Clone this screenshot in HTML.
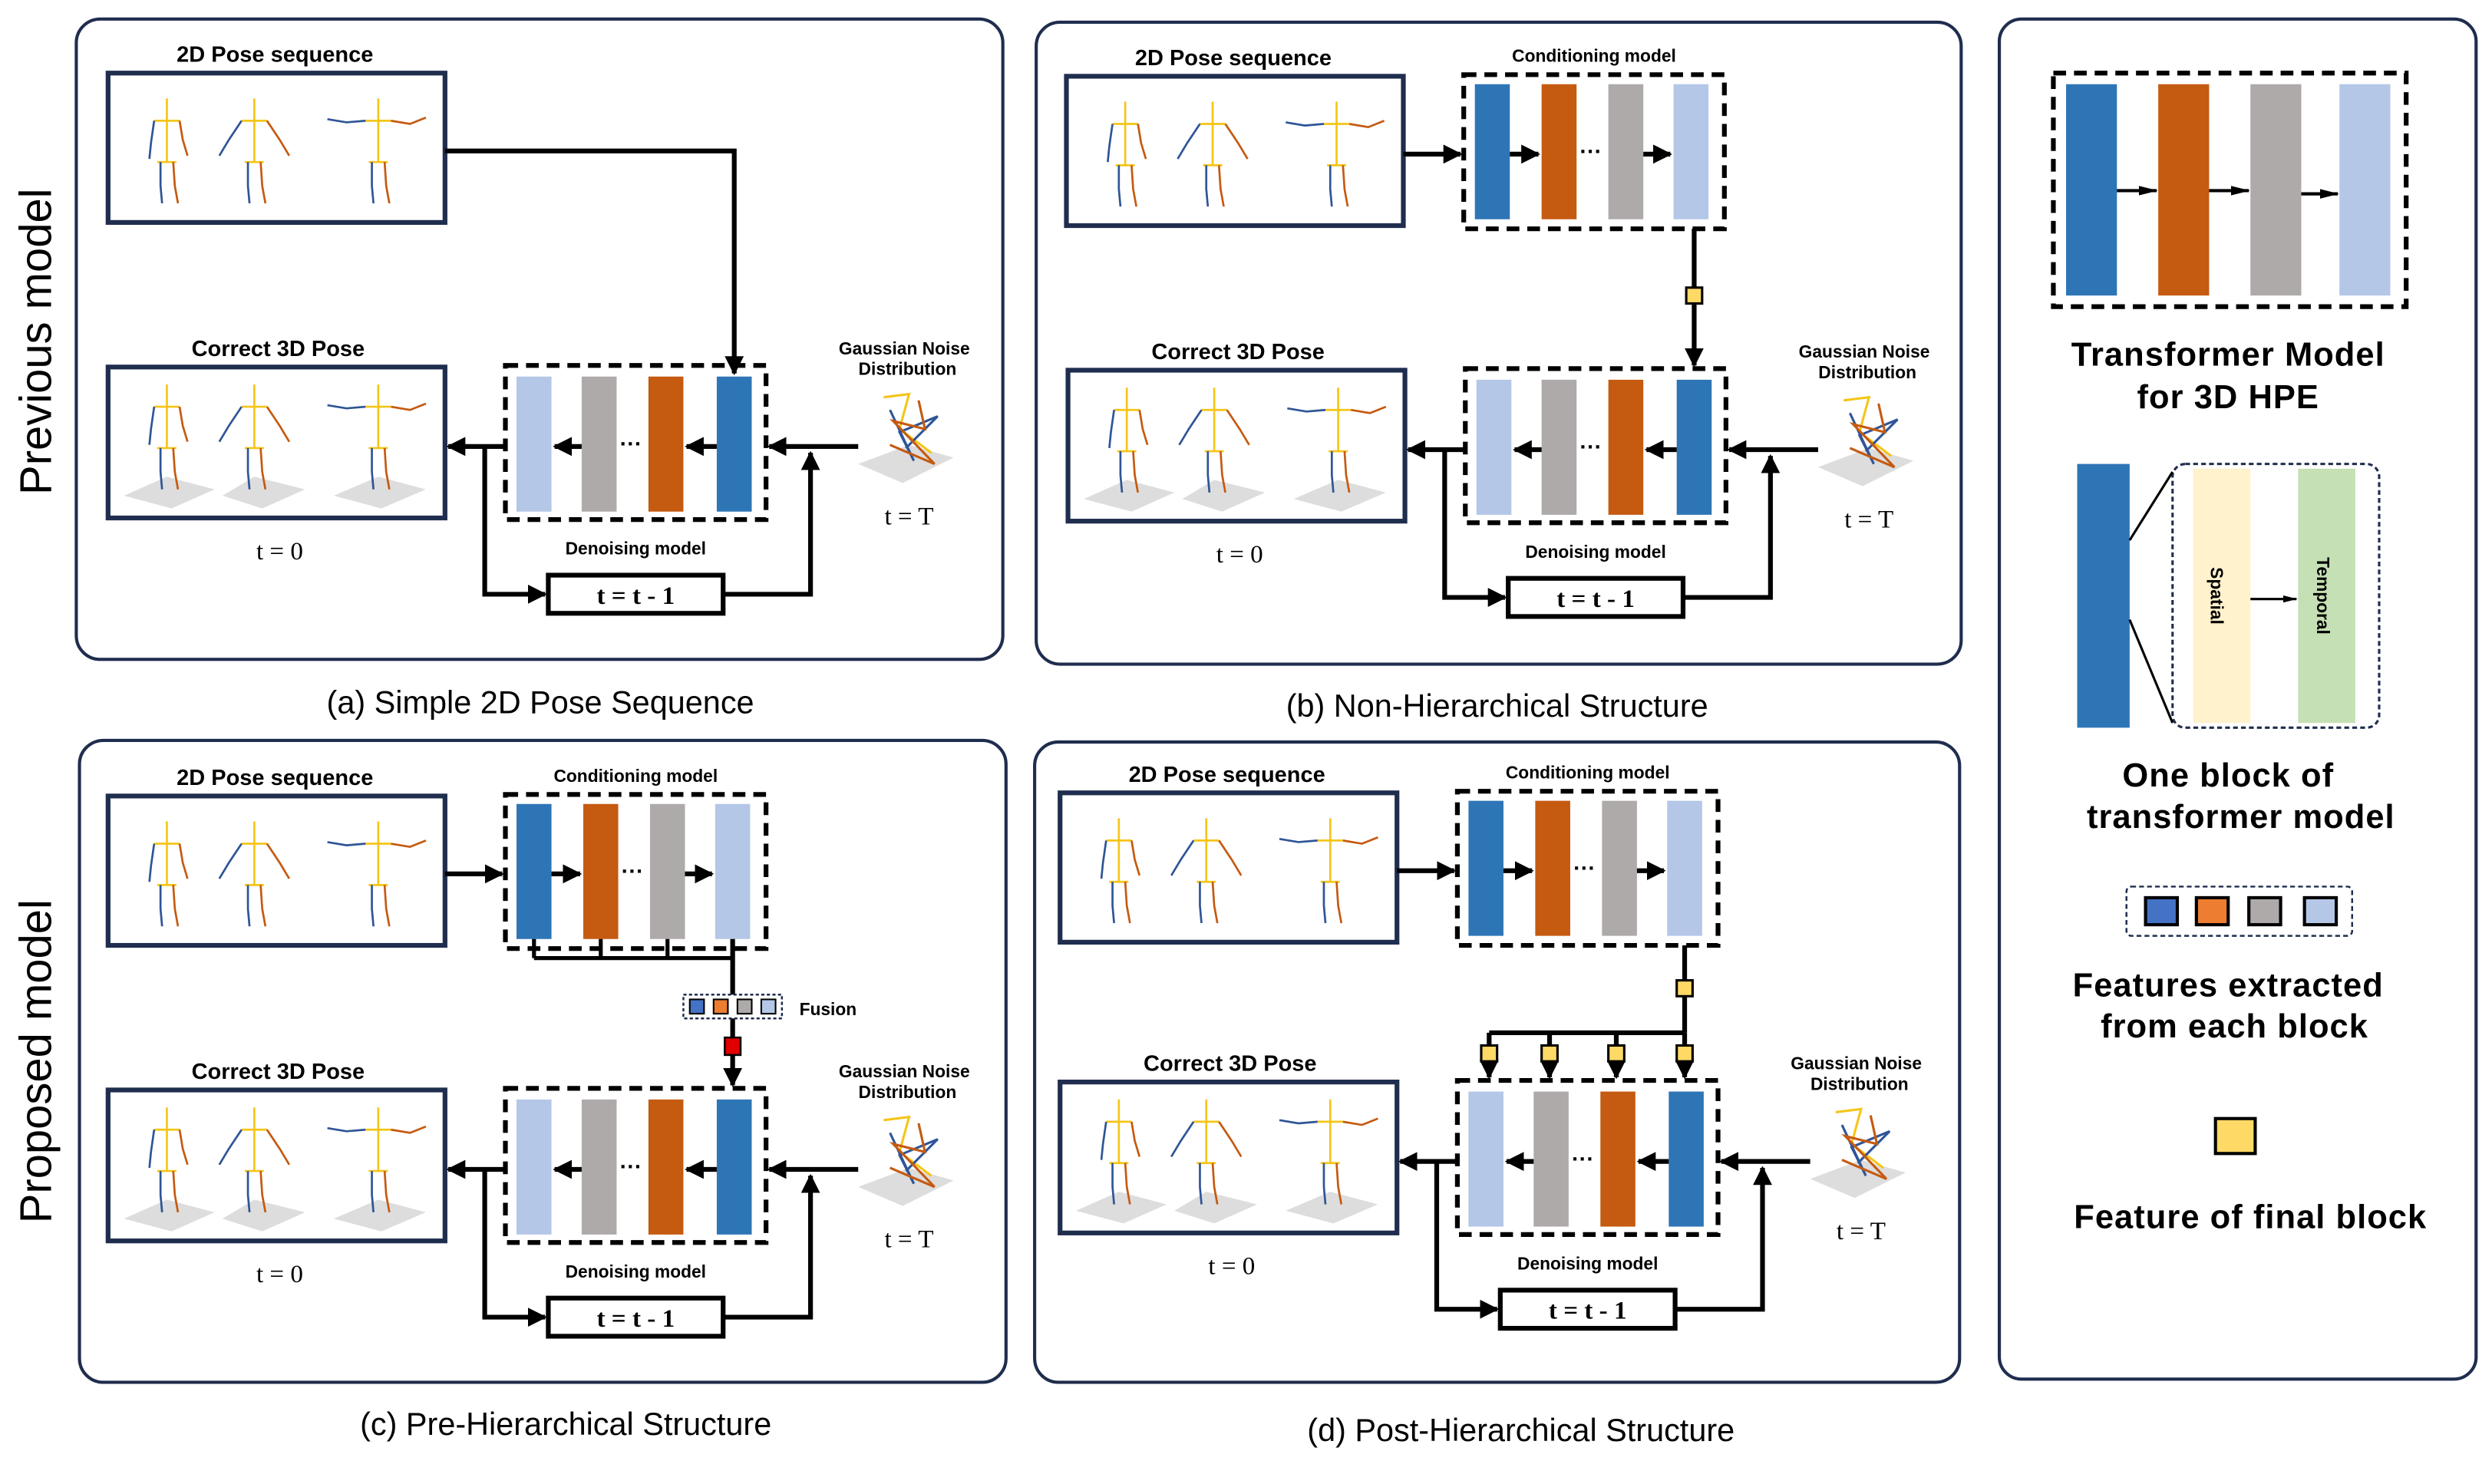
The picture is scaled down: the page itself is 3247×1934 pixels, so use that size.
<!DOCTYPE html>
<html><head><meta charset="utf-8"><style>
html,body{margin:0;padding:0;background:#fff;}
svg{display:block;}
.lb{font-family:"Liberation Sans",sans-serif;font-weight:bold;font-size:14px;text-anchor:middle;}
.sm{font-family:"Liberation Sans",sans-serif;font-weight:bold;font-size:11px;text-anchor:middle;}
.cap{font-family:"Liberation Sans",sans-serif;font-size:20px;text-anchor:middle;}
.sr{font-family:"Liberation Serif",serif;font-size:16px;text-anchor:middle;}
.lg{font-family:"Liberation Sans",sans-serif;font-weight:bold;font-size:21px;text-anchor:middle;letter-spacing:0.5px;}
.side{font-family:"Liberation Sans",sans-serif;font-size:28px;text-anchor:middle;}
</style></head><body>
<svg width="3247" height="1934" viewBox="0 0 1568 934" preserveAspectRatio="none" xmlns="http://www.w3.org/2000/svg">
<defs>
<marker id="a" markerWidth="4" markerHeight="4" refX="3.6" refY="2" orient="auto" markerUnits="strokeWidth"><path d="M0,0 L4,2 L0,4z" fill="#000"/></marker>
<marker id="b" markerWidth="6" markerHeight="4" refX="5.6" refY="2" orient="auto" markerUnits="strokeWidth"><path d="M0,0.5 L6,2 L0,3.5z" fill="#000"/></marker>
<g id="f1" fill="none" stroke-width="1.3">
<path d="M0,0V40M-8,14H8M-6,40H6" stroke="#f5c518"/>
<path d="M-8,14L-10,28L-11,38M-4,40L-4,55L-3,66" stroke="#2f5597"/>
<path d="M8,14L10,26L13,36M4,40L5,55L7,66" stroke="#c55a11"/>
</g>
<g id="f2" fill="none" stroke-width="1.3">
<path d="M0,0V40M-8,14H8M-6,40H6" stroke="#f5c518"/>
<path d="M-8,14L-16,26L-22,36M-4,40L-4,55L-3,66" stroke="#2f5597"/>
<path d="M8,14L16,26L22,36M4,40L5,55L7,66" stroke="#c55a11"/>
</g>
<g id="f3" fill="none" stroke-width="1.3">
<path d="M0,0V40M-8,14H8M-6,40H6" stroke="#f5c518"/>
<path d="M-8,14L-20,15L-32,13M-4,40L-4,55L-3,66" stroke="#2f5597"/>
<path d="M8,14L20,16L30,12M4,40L5,55L7,66" stroke="#c55a11"/>
</g>
<g id="b2d">
<rect x="68" y="46" width="212" height="94" fill="#fff" stroke="#1f2d4e" stroke-width="3"/>
<use href="#f1" x="105" y="62"/><use href="#f2" x="160" y="62"/><use href="#f3" x="238" y="62"/>
<text class="lb" x="173" y="39">2D Pose sequence</text>
</g>
<g id="noise">
<polygon points="540,292 572,280 600,288 568,304" fill="#ddd"/>
<path d="M556,250L572,248L566,270L586,285" stroke="#f5c518" stroke-width="1.5" fill="none"/>
<path d="M560,258L575,290L566,272L590,262L570,282" stroke="#2f5597" stroke-width="1.5" fill="none"/>
<path d="M578,252L582,270L562,265L588,292L560,280" stroke="#c55a11" stroke-width="1.5" fill="none"/>
</g>
<g id="low">
<rect x="68" y="231" width="212" height="95" fill="#fff" stroke="#1f2d4e" stroke-width="3"/>
<polygon points="78,312 105,300 135,308 108,320" fill="#ddd"/>
<polygon points="140,312 160,300 192,308 165,320" fill="#ddd"/>
<polygon points="210,312 238,300 268,308 240,320" fill="#ddd"/>
<use href="#f1" x="105" y="242"/><use href="#f2" x="160" y="242"/><use href="#f3" x="238" y="242"/>
<text class="lb" x="175" y="224">Correct 3D Pose</text>
<text class="sr" x="176" y="352">t = 0</text>
<rect x="318" y="230" width="164" height="97" fill="none" stroke="#000" stroke-width="3" stroke-dasharray="8,5"/>
<rect x="325" y="237" width="22" height="85" fill="#b4c7e7"/>
<rect x="366" y="237" width="22" height="85" fill="#aeaaaa"/>
<rect x="408" y="237" width="22" height="85" fill="#c55a11"/>
<rect x="451" y="237" width="22" height="85" fill="#2e75b6"/>
<path d="M451,281H432" stroke="#000" stroke-width="3" marker-end="url(#a)"/>
<path d="M366,281H349" stroke="#000" stroke-width="3" marker-end="url(#a)"/>
<text class="lb" x="397" y="284">···</text>
<path d="M318,281H282" stroke="#000" stroke-width="3" marker-end="url(#a)"/>
<path d="M540,281H484" stroke="#000" stroke-width="3" marker-end="url(#a)"/>
<path d="M305,281V374H343" stroke="#000" stroke-width="3" fill="none" marker-end="url(#a)"/>
<rect x="345" y="362" width="110" height="24" fill="#fff" stroke="#000" stroke-width="3"/>
<text class="sr" x="400" y="380" font-weight="bold">t = t - 1</text>
<path d="M455,374H510V285" stroke="#000" stroke-width="3" fill="none" marker-end="url(#a)"/>
<text class="sm" x="400" y="349">Denoising model</text>
<text class="sm" x="569" y="223">Gaussian Noise</text>
<text class="sm" x="571" y="236">Distribution</text>
<use href="#noise"/>
<text class="sr" x="572" y="330">t = T</text>
</g>
<g id="up">
<use href="#b2d"/>
<path d="M280,95H316" stroke="#000" stroke-width="3" marker-end="url(#a)"/>
<rect x="318" y="45" width="164" height="97" fill="none" stroke="#000" stroke-width="3" stroke-dasharray="8,5"/>
<rect x="325" y="51" width="22" height="85" fill="#2e75b6"/>
<rect x="367" y="51" width="22" height="85" fill="#c55a11"/>
<rect x="409" y="51" width="22" height="85" fill="#aeaaaa"/>
<rect x="450" y="51" width="22" height="85" fill="#b4c7e7"/>
<path d="M347,95H365" stroke="#000" stroke-width="3" marker-end="url(#a)"/>
<path d="M431,95H448" stroke="#000" stroke-width="3" marker-end="url(#a)"/>
<text class="lb" x="398" y="98">···</text>
<text class="sm" x="400" y="37" font-size="12">Conditioning model</text>
</g>
</defs>

<!-- panel a -->
<rect x="48" y="12" width="583" height="403" rx="15" fill="none" stroke="#1f2d4e" stroke-width="2"/>
<use href="#b2d"/>
<path d="M280,95H462V235" stroke="#000" stroke-width="3" fill="none" marker-end="url(#a)"/>
<use href="#low"/>
<text class="cap" x="340" y="449">(a) Simple 2D Pose Sequence</text>
<text class="side" transform="translate(32,215) rotate(-90)">Previous model</text>
<text class="side" transform="translate(32,668) rotate(-90)">Proposed model</text>

<!-- panel b -->
<rect x="652" y="14" width="582" height="404" rx="15" fill="none" stroke="#1f2d4e" stroke-width="2"/>
<use href="#up" transform="translate(603,2)"/>
<use href="#low" transform="translate(604,2)"/>
<path d="M1066,144V230" stroke="#000" stroke-width="3" marker-end="url(#a)"/>
<rect x="1061" y="181" width="10" height="10" fill="#ffd966" stroke="#000" stroke-width="1.5"/>
<text class="cap" x="942" y="451">(b) Non-Hierarchical Structure</text>

<!-- panel c -->
<rect x="50" y="466" width="583" height="404" rx="15" fill="none" stroke="#1f2d4e" stroke-width="2"/>
<use href="#up" transform="translate(0,455)"/>
<use href="#low" transform="translate(0,455)"/>
<path d="M336,591V603M378,591V603M420,591V603M336,603H461" stroke="#000" stroke-width="2.5" fill="none"/>
<path d="M461,591V683" stroke="#000" stroke-width="3" marker-end="url(#a)"/>
<rect x="430" y="626" width="62" height="15" fill="#fff" stroke="#1f2d4e" stroke-width="1.2" stroke-dasharray="2,1.5"/>
<rect x="434" y="629" width="9" height="9" fill="#4472c4" stroke="#000"/>
<rect x="449" y="629" width="9" height="9" fill="#ed7d31" stroke="#000"/>
<rect x="464" y="629" width="9" height="9" fill="#aeaaaa" stroke="#000"/>
<rect x="479" y="629" width="9" height="9" fill="#b4c7e7" stroke="#000"/>
<rect x="456" y="653" width="10" height="11" fill="#e00000" stroke="#000" stroke-width="1.2"/>
<text class="sm" x="521" y="639" font-size="12">Fusion</text>
<text class="cap" x="356" y="903">(c) Pre-Hierarchical Structure</text>

<!-- panel d -->
<rect x="651" y="467" width="582" height="403" rx="15" fill="none" stroke="#1f2d4e" stroke-width="2"/>
<use href="#up" transform="translate(599,453)"/>
<use href="#low" transform="translate(599,450)"/>
<path d="M1060,595V650M937,650H1060" stroke="#000" stroke-width="3" fill="none"/>
<path d="M937,650V678" stroke="#000" stroke-width="3" marker-end="url(#a)"/>
<path d="M975,650V678" stroke="#000" stroke-width="3" marker-end="url(#a)"/>
<path d="M1017,650V678" stroke="#000" stroke-width="3" marker-end="url(#a)"/>
<path d="M1060,650V678" stroke="#000" stroke-width="3" marker-end="url(#a)"/>
<rect x="1055" y="617" width="10" height="10" fill="#ffd966" stroke="#000" stroke-width="1.5"/>
<rect x="932" y="658" width="10" height="10" fill="#ffd966" stroke="#000" stroke-width="1.5"/>
<rect x="970" y="658" width="10" height="10" fill="#ffd966" stroke="#000" stroke-width="1.5"/>
<rect x="1012" y="658" width="10" height="10" fill="#ffd966" stroke="#000" stroke-width="1.5"/>
<rect x="1055" y="658" width="10" height="10" fill="#ffd966" stroke="#000" stroke-width="1.5"/>
<text class="cap" x="957" y="907">(d) Post-Hierarchical Structure</text>

<!-- legend -->
<rect x="1258" y="12" width="300" height="856" rx="14" fill="none" stroke="#1f2d4e" stroke-width="2"/>
<rect x="1292" y="46" width="222" height="147" fill="none" stroke="#000" stroke-width="3" stroke-dasharray="8,5"/>
<rect x="1300" y="53" width="32" height="133" fill="#2e75b6"/>
<rect x="1358" y="53" width="32" height="133" fill="#c55a11"/>
<rect x="1416" y="53" width="32" height="133" fill="#aeaaaa"/>
<rect x="1472" y="53" width="32" height="133" fill="#b4c7e7"/>
<path d="M1332,120H1357" stroke="#000" stroke-width="2" marker-end="url(#b)"/>
<path d="M1390,120H1415" stroke="#000" stroke-width="2" marker-end="url(#b)"/>
<path d="M1448,122H1471" stroke="#000" stroke-width="2" marker-end="url(#b)"/>
<text class="lg" x="1402" y="230">Transformer Model</text>
<text class="lg" x="1402" y="257">for 3D HPE</text>
<rect x="1307" y="292" width="33" height="166" fill="#2e75b6"/>
<rect x="1367" y="292" width="130" height="166" rx="8" fill="none" stroke="#1f2d4e" stroke-width="1.5" stroke-dasharray="3,2"/>
<path d="M1340,340L1367,297M1340,390L1367,455" stroke="#000" stroke-width="1.5"/>
<rect x="1380" y="295" width="36" height="160" fill="#fff2cc"/>
<rect x="1446" y="295" width="36" height="160" fill="#c5e0b4"/>
<path d="M1416,377H1445" stroke="#000" stroke-width="1.5" marker-end="url(#b)"/>
<text class="sm" font-size="15" transform="translate(1391,375) rotate(90)">Spatial</text>
<text class="sm" font-size="15" transform="translate(1458,375) rotate(90)">Temporal</text>
<text class="lg" x="1402" y="495">One block of</text>
<text class="lg" x="1410" y="521">transformer model</text>
<rect x="1338" y="558" width="142" height="31" rx="3" fill="none" stroke="#1f2d4e" stroke-width="1.2" stroke-dasharray="3,2"/>
<rect x="1350" y="565" width="20" height="17" fill="#4472c4" stroke="#000" stroke-width="2"/>
<rect x="1382" y="565" width="20" height="17" fill="#ed7d31" stroke="#000" stroke-width="2"/>
<rect x="1415" y="565" width="20" height="17" fill="#aeaaaa" stroke="#000" stroke-width="2"/>
<rect x="1450" y="565" width="20" height="17" fill="#b4c7e7" stroke="#000" stroke-width="2"/>
<text class="lg" x="1402" y="627">Features extracted</text>
<text class="lg" x="1406" y="653">from each block</text>
<rect x="1394" y="704" width="25" height="22" fill="#ffd966" stroke="#000" stroke-width="2"/>
<text class="lg" x="1416" y="773">Feature of final block</text>
</svg>
</body></html>
